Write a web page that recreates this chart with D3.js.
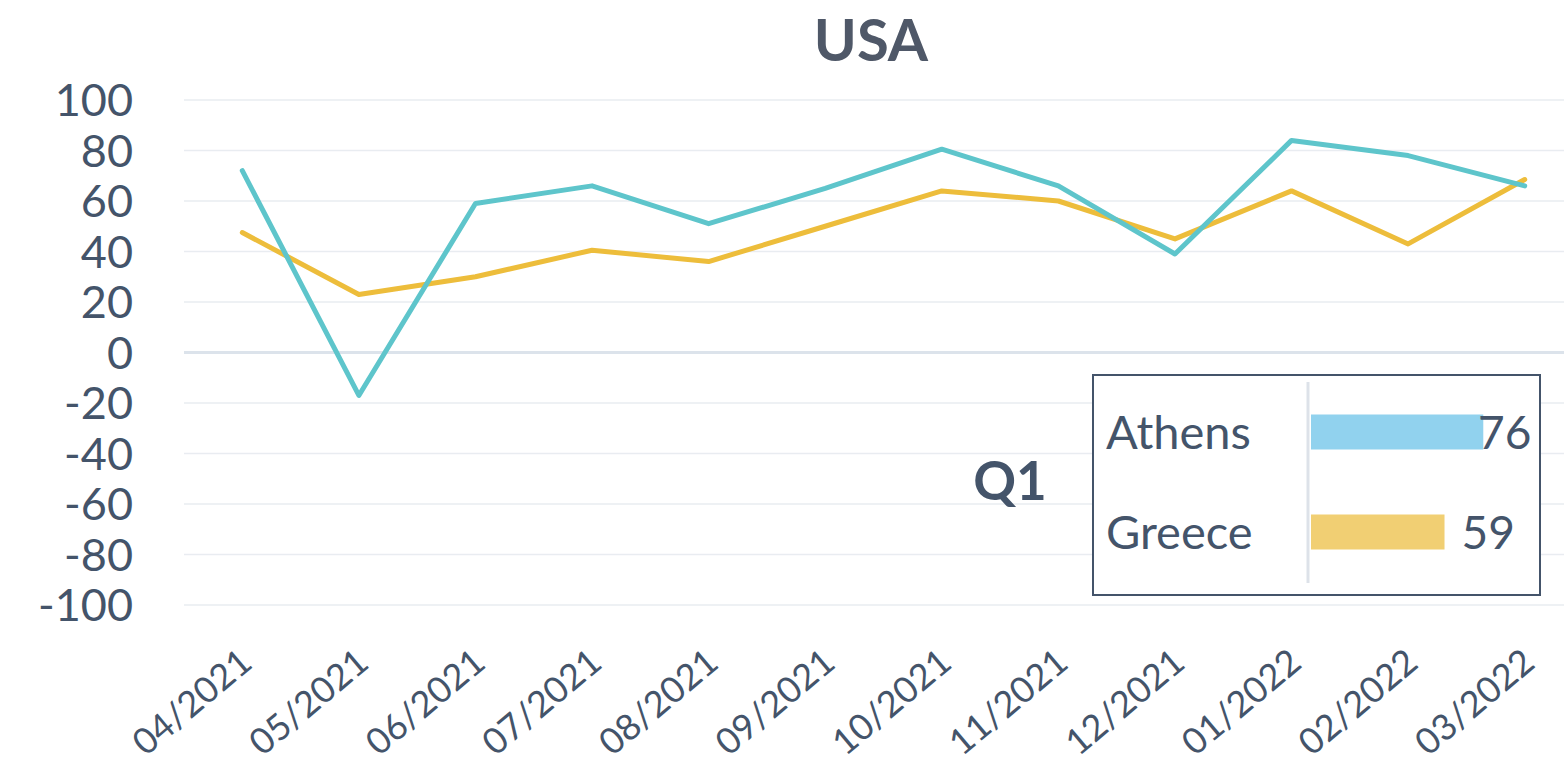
<!DOCTYPE html>
<html>
<head>
<meta charset="utf-8">
<script src="https://cdn.jsdelivr.net/npm/d3@7"></script>
<style>
  body { margin: 0; background: #fff; }
  text { font-family: Lato, "Noto Sans", sans-serif; fill: #44546A; }
</style>
</head>
<body>
<script>
// months on the x axis
const months = ['04/2021', '05/2021', '06/2021', '07/2021', '08/2021', '09/2021',
  '10/2021', '11/2021', '12/2021', '01/2022', '02/2022', '03/2022'];
// line values
const tealValues = [72, -17, 59, 66, 51, 65, 80.5, 66, 39, 84, 78, 66];
const yellowValues = [47.5, 23, 30, 40.5, 36, 50, 64, 60, 45, 64, 43, 68.5];
const yTicks = [100, 80, 60, 40, 20, 0, -20, -40, -60, -80, -100];
// the little Q1 box
const legendNames = ['Athens', 'Greece'];
const legendValues = [76, 59];

const width = 1564;
const height = 770;

const svg = d3.select('body').append('svg')
  .attr('width', width)
  .attr('height', height);

// x: one band per month, points at the band centres
const x = d3.scalePoint().domain(months).range([184, 1583]).padding(0.5);
const y = d3.scaleLinear().domain([-100, 100]).range([605, 100]);

// grid lines
svg.append('g')
  .selectAll('line')
  .data(yTicks)
  .join('line')
  .attr('x1', 184)
  .attr('x2', width)
  .attr('y1', d => y(d))
  .attr('y2', d => y(d))
  .attr('stroke', d => (d === 0 ? '#DCE3EB' : '#E9ECF1'))
  .attr('stroke-width', d => (d === 0 ? 3 : 1.5));

// y labels
svg.append('g')
  .selectAll('text')
  .data(yTicks)
  .join('text')
  .attr('x', 133)
  .attr('y', d => y(d))
  .attr('dy', '0.36em')
  .attr('text-anchor', 'end')
  .style('font-size', '45px')
  .text(d => d);

// x labels, rotated
svg.append('g')
  .selectAll('text')
  .data(months)
  .join('text')
  .attr('transform', d => `translate(${x(d) + 12}, 666) rotate(-40)`)
  .attr('text-anchor', 'end')
  .style('font-size', '36px')
  .text(d => d);

const line = d3.line()
  .x((d, i) => x(months[i]))
  .y(d => y(d));

svg.append('path')
  .datum(yellowValues)
  .attr('d', line)
  .attr('fill', 'none')
  .attr('stroke', '#EDBD3B')
  .attr('stroke-width', 5)
  .attr('stroke-linejoin', 'round')
  .attr('stroke-linecap', 'round');

svg.append('path')
  .datum(tealValues)
  .attr('d', line)
  .attr('fill', 'none')
  .attr('stroke', '#5EC5CB')
  .attr('stroke-width', 5)
  .attr('stroke-linejoin', 'round')
  .attr('stroke-linecap', 'round');

// title
svg.append('text')
  .attr('x', 871)
  .attr('y', 61)
  .attr('text-anchor', 'middle')
  .style('font-size', '58px')
  .style('font-weight', 'bold')
  .style('fill', '#4F5868')
  .text('USA');

// Q1 label
svg.append('text')
  .attr('x', 1010)
  .attr('y', 500)
  .attr('text-anchor', 'middle')
  .style('font-size', '53px')
  .style('font-weight', 'bold')
  .text('Q1');

// small bar box
const box = { x: 1093, y: 375, w: 447, h: 220 };
const g = svg.append('g');
g.append('rect')
  .attr('x', box.x)
  .attr('y', box.y)
  .attr('width', box.w)
  .attr('height', box.h)
  .attr('fill', '#fff')
  .attr('stroke', '#44546A')
  .attr('stroke-width', 2);

const bx = d3.scaleLinear().domain([0, 100]).range([1310, 1538]);
const by = d3.scaleBand().domain(legendNames).range([382, 582])
  .paddingInner(0.65)
  .paddingOuter(0.325);
const barColors = ['#91D2EE', '#F1CF73'];

g.append('line')
  .attr('x1', 1308)
  .attr('x2', 1308)
  .attr('y1', 382)
  .attr('y2', 583)
  .attr('stroke', '#DDE2E9')
  .attr('stroke-width', 3);

g.selectAll('rect.bar')
  .data(legendValues)
  .join('rect')
  .attr('class', 'bar')
  .attr('x', bx(0) + 1)
  .attr('y', (d, i) => by(legendNames[i]))
  .attr('width', d => bx(d) - bx(0) - 1)
  .attr('height', by.bandwidth())
  .attr('fill', (d, i) => barColors[i]);

g.selectAll('text.name')
  .data(legendNames)
  .join('text')
  .attr('class', 'name')
  .attr('x', 1106)
  .attr('y', d => by(d) + by.bandwidth() / 2)
  .attr('dy', '0.36em')
  .style('font-size', '47px')
  .text(d => d);

g.selectAll('text.val')
  .data(legendValues)
  .join('text')
  .attr('class', 'val')
  .attr('x', d => Math.min(bx(d) + 17, box.x + box.w - 62))
  .attr('y', (d, i) => by(legendNames[i]) + by.bandwidth() / 2)
  .attr('dy', '0.36em')
  .style('font-size', '46px')
  .text(d => d);
</script>
</body>
</html>
